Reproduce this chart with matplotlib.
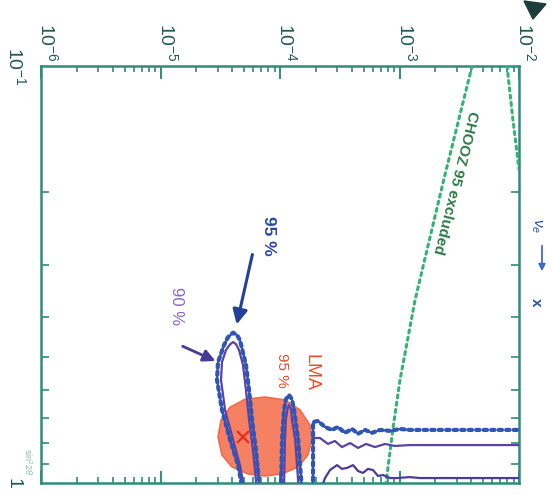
import matplotlib
matplotlib.use('Agg')
import matplotlib.pyplot as plt
from matplotlib.patches import Polygon
from matplotlib.ticker import LogLocator, NullFormatter

plt.rcParams['font.family'] = ['Liberation Sans', 'DejaVu Sans']
plt.rcParams['mathtext.fontset'] = 'custom'
plt.rcParams['mathtext.rm'] = 'Liberation Sans'
plt.rcParams['mathtext.it'] = 'Liberation Sans:italic'
plt.rcParams['mathtext.bf'] = 'Liberation Sans:bold'

# ---- data (chart is shown rotated: dm2 runs along the top, sin^2 2theta down the side)
dm2_exponents = [-6, -5, -4, -3, -2]
s2_tick_values = [0.1, 1.0]
s2_tick_labels = ['$10^{-1}$', '1']

c95_dm2 = [4.90e-5, 4.46e-5, 3.82e-5, 3.27e-5, 2.97e-5, 3.03e-5, 3.40e-5, 3.67e-5, 4.05e-5, 4.37e-5,
           4.62e-5, 5.19e-5, 5.51e-5, 5.84e-5, 6.29e-5, 6.81e-5, 1.02e-4, 1.04e-4, 1.08e-4, 1.12e-4,
           1.19e-4, 1.26e-4, 1.31e-4, 1.42e-4, 1.53e-4, 1.89e-4, 1.89e-4, 2.08e-4, 2.38e-4, 2.72e-4,
           3.05e-4, 3.50e-4, 4.01e-4, 4.50e-4, 5.14e-4, 5.89e-4, 6.87e-4, 8.34e-4, 1.01e-3, 1.22e-3, 1.0e-2]
c95_s2 = [1.05, 0.906, 0.788, 0.668, 0.566, 0.513, 0.467, 0.447, 0.436, 0.442,
          0.454, 0.521, 0.598, 0.706, 0.834, 1.05, 1.05, 0.788, 0.668, 0.630,
          0.615, 0.630, 0.668, 0.788, 1.05, 1.05, 0.714, 0.710, 0.734, 0.746,
          0.734, 0.758, 0.742, 0.762, 0.746, 0.758, 0.746, 0.750, 0.742, 0.746, 0.746]

c90_dm2 = [5.09e-5, 4.62e-5, 4.05e-5, 3.47e-5, 3.21e-5, 3.27e-5, 3.53e-5, 3.82e-5, 4.05e-5, 4.29e-5,
           4.54e-5, 4.90e-5, 5.19e-5, 5.51e-5, 5.94e-5, 6.43e-5, 1.08e-4, 1.10e-4, 1.12e-4, 1.15e-4,
           1.19e-4, 1.24e-4, 1.26e-4, 1.34e-4, 1.44e-4, 1.89e-4, 1.89e-4, 2.16e-4, 2.52e-4, 2.88e-4,
           3.30e-4, 3.86e-4, 4.50e-4, 5.25e-4, 6.24e-4, 7.57e-4, 9.16e-4, 1.22e-3, 1.0e-2]
c90_s2 = [1.05, 0.906, 0.788, 0.668, 0.566, 0.513, 0.480, 0.465, 0.459, 0.465,
          0.480, 0.521, 0.598, 0.706, 0.834, 1.05, 1.05, 0.788, 0.706, 0.668,
          0.650, 0.668, 0.706, 0.788, 1.05, 1.05, 0.780, 0.780, 0.806, 0.793,
          0.820, 0.802, 0.824, 0.806, 0.820, 0.806, 0.815, 0.811, 0.811]

c3_dm2 = [2.16e-4, 2.38e-4, 2.62e-4, 3.00e-4, 3.30e-4, 3.64e-4, 4.09e-4, 4.50e-4, 4.95e-4,
          5.44e-4, 6.00e-4, 6.61e-4, 7.28e-4, 8.34e-4, 9.53e-4, 1.22e-3, 1.49e-3, 1.0e-2]
c3_s2 = [1.05, 0.973, 0.931, 0.906, 0.925, 0.920, 0.906, 0.936, 0.946,
         0.925, 0.931, 0.962, 0.957, 0.973, 0.973, 0.968, 0.973, 0.973]

lma_dm2 = [3.03e-5, 3.21e-5, 3.82e-5, 5.09e-5, 7.48e-5, 1.10e-4, 1.47e-4, 1.78e-4,
           1.85e-4, 1.71e-4, 1.42e-4, 1.04e-4, 7.48e-5, 5.39e-5, 3.96e-5, 3.27e-5]
lma_s2 = [0.776, 0.706, 0.658, 0.630, 0.622, 0.632, 0.668, 0.726,
          0.788, 0.857, 0.915, 0.951, 0.962, 0.951, 0.915, 0.857]
bestfit_dm2 = [4.90e-5]
bestfit_s2 = [0.776]

chooz1_dm2 = [4.05e-3, 2.35e-3, 1.35e-3, 1.01e-3, 8.83e-4, 7.71e-4]
chooz1_s2 = [0.1, 0.187, 0.364, 0.566, 0.738, 1.0]
chooz2_dm2 = [7.94e-3, 8.91e-3, 1.0e-2]
chooz2_s2 = [0.1, 0.135, 0.177]

# ---- figure
W, H = 552, 494
fig = plt.figure(figsize=(W / 100, H / 100), dpi=100)
ax = fig.add_axes([41 / W, 1 - 483 / H, 478 / W, 417 / H])
ax.set_xscale('log')
ax.set_yscale('log')
ax.set_xlim(1e-6, 1e-2)
ax.set_ylim(1.0, 0.1)

axis_col = '#2f8c7c'
lab_col = '#1f5a50'
for sp in ax.spines.values():
    sp.set_color(axis_col)
    sp.set_linewidth(1.8)
ax.xaxis.set_ticks_position('both')
ax.yaxis.set_ticks_position('both')
ax.xaxis.set_major_locator(LogLocator(base=10, numticks=10))
ax.xaxis.set_minor_locator(LogLocator(base=10, subs=range(2, 10), numticks=100))
ax.yaxis.set_major_locator(LogLocator(base=10, numticks=10))
ax.yaxis.set_minor_locator(LogLocator(base=10, subs=range(2, 10), numticks=100))
ax.xaxis.set_minor_formatter(NullFormatter())
ax.yaxis.set_minor_formatter(NullFormatter())
ax.tick_params(which='both', direction='in', colors=axis_col,
               labelbottom=False, labeltop=False, labelleft=False, labelright=False)
ax.tick_params(axis='x', which='major', length=9, width=1.4)
ax.tick_params(axis='x', which='minor', length=4.5, width=1.2)
ax.tick_params(axis='y', which='minor', length=6, width=1.2)
ax.tick_params(axis='y', which='major', length=0)

# tick labels (rotated)
for k in dm2_exponents:
    ax.text(10.0 ** k, 1 + 4 / 417, '$10^{%d}$' % k, transform=ax.get_xaxis_transform(),
            rotation=-90, rotation_mode='anchor', ha='right', va='baseline',
            fontsize=14, color=lab_col, clip_on=False)
for v, lab in zip(s2_tick_values, s2_tick_labels):
    ax.text(-0.067, v, lab, transform=ax.get_yaxis_transform(),
            rotation=-90, rotation_mode='anchor', ha='center', va='baseline',
            fontsize=14, color=lab_col, clip_on=False)

# LMA region
ax.add_patch(Polygon(list(zip(lma_dm2, lma_s2)), closed=True, facecolor='#f5795a',
                     edgecolor='#f26848', lw=1.2, alpha=0.95, zorder=2, joinstyle='round'))
ax.plot(bestfit_dm2, bestfit_s2, marker='x', color='#e0301e', ms=8, mew=1.6, ls='none', zorder=3)

# CHOOZ
green = '#35b373'
ax.plot(chooz1_dm2, chooz1_s2, color=green, lw=2.2, ls=(0, (1, 1.4)),
        dash_capstyle='round', zorder=3)
ax.plot(chooz2_dm2, chooz2_s2, color=green, lw=2.2, ls=(0, (1, 1.4)),
        dash_capstyle='round', zorder=3, clip_on=True)
ax.text(2.91e-3, 0.190, 'CHOOZ 95 excluded', rotation=-104, rotation_mode='anchor',
        ha='center', va='center', fontsize=11, color='#2c7a48', fontweight='bold')

# exclusion contours
solid_mask = [d < 1.3e-3 for d in c95_dm2]
sd = [d for d, m in zip(c95_dm2, solid_mask) if m] + [1.3e-3]
ss = [s for s, m in zip(c95_s2, solid_mask) if m] + [0.746]
ax.plot(sd, ss, color='#25398c', lw=1.3, zorder=4)
ax.plot(c95_dm2, c95_s2, color='#2d56b8', lw=3.0, ls=(0, (0.8, 1.0)),
        dash_capstyle='round', zorder=5)
ax.plot(c90_dm2, c90_s2, color='#5b42a6', lw=1.6, zorder=4)
ax.plot(c3_dm2, c3_s2, color='#4b3c9c', lw=1.6, zorder=4)

# labels and arrows
ax.annotate('', xy=(4.29e-5, 0.423), xytext=(5.94e-5, 0.279),
            arrowprops=dict(arrowstyle='-|>', color='#23409a', lw=2.2, mutation_scale=22),
            zorder=6)
ax.text(7.94e-5, 0.256, '95 %', rotation=-90, rotation_mode='anchor', ha='center',
        va='center', fontsize=12.5, color='#2a4aa5', fontweight='bold')
ax.annotate('', xy=(3.03e-5, 0.513), xytext=(1.46e-5, 0.467),
            arrowprops=dict(arrowstyle='-|>', color='#463a98', lw=2.0, mutation_scale=18),
            zorder=6)
ax.text(1.35e-5, 0.377, '90 %', rotation=-90, rotation_mode='anchor', ha='center',
        va='center', fontsize=12, color='#8a66cc')
ax.text(1.80e-4, 0.542, 'LMA', rotation=-90, rotation_mode='anchor', ha='center',
        va='center', fontsize=13, color='#f04a28')
ax.text(1.04e-4, 0.536, '95 %', rotation=-90, rotation_mode='anchor', ha='center',
        va='center', fontsize=11, color='#f04a28')

# channel label on the right
fig.text(536 / W, 1 - 226 / H, r'$\nu_e$', rotation=-90, ha='center', va='center',
         fontsize=11, color='#2a50b0')
fig.add_artist(matplotlib.patches.FancyArrowPatch((542 / W, 1 - 243 / H), (542 / W, 1 - 274 / H),
                                                  transform=fig.transFigure, arrowstyle='-|>',
                                                  mutation_scale=10, color='#3a6ad0', lw=1.3))
fig.text(536 / W, 1 - 302 / H, 'x', rotation=-90, ha='center', va='center',
         fontsize=11, color='#2a50b0', fontweight='bold')

# axis label fragment and arrow head at the corner
fig.text(28 / W, 1 - 462 / H, r'sin$^2$2$\theta$', rotation=-90, ha='center', va='center',
         fontsize=6.5, color='#5f9a90', alpha=0.7)
fig.add_artist(Polygon([[524 / W, 1 - 1 / H], [546 / W, 1 - 4 / H], [533 / W, 1 - 19 / H]],
                       closed=True, transform=fig.transFigure, color='#1d3d3a'))

fig.savefig('out.png', dpi=100)
